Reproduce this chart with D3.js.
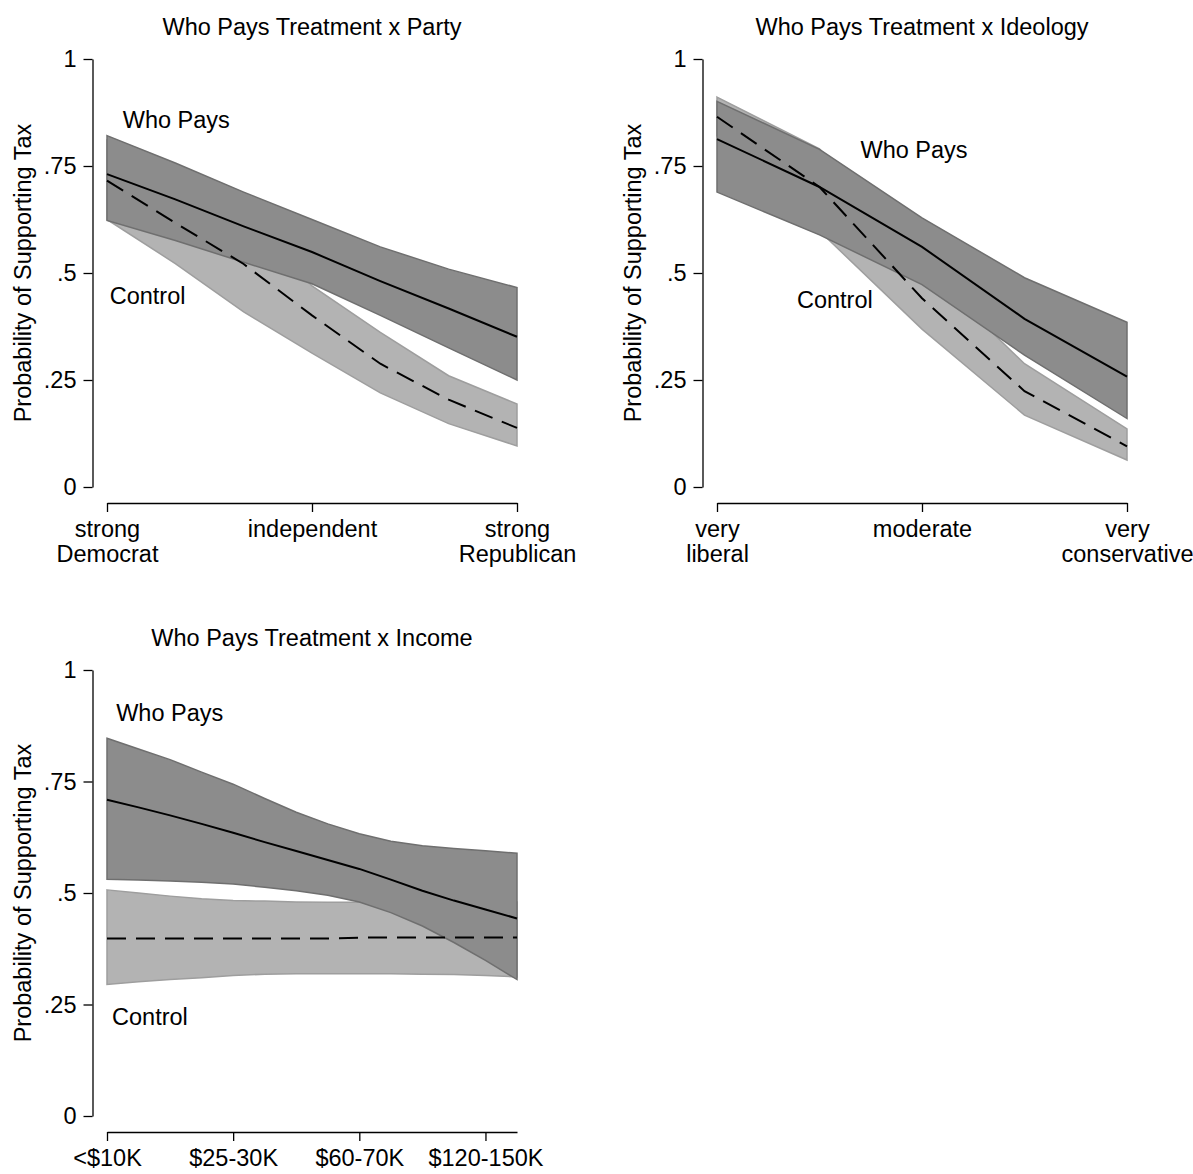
<!DOCTYPE html>
<html>
<head>
<meta charset="utf-8">
<script src="https://cdn.jsdelivr.net/npm/d3@7"></script>
<style>
  body { margin: 0; background: #fff; }
  svg { display: block; font-family: "Liberation Sans", Arial, Helvetica, sans-serif; }
  .axis path, .axis line { stroke: #000; stroke-width: 1.3; }
  .axis text { fill: #000; }
</style>
</head>
<body>
<svg id="chart" width="1193" height="1174"></svg>
<script>
// ---- data ----
const yTicks = [0, 0.25, 0.5, 0.75, 1];
const yTickLabels = ["0", ".25", ".5", ".75", "1"];

// Party (1 = strong Democrat ... 7 = strong Republican)
const partyX = [1, 2, 3, 4, 5, 6, 7];
const partyTicks = [1, 4, 7];
const partyTickLabels = [["strong", "Democrat"], ["independent"], ["strong", "Republican"]];
const partyWhoMid = [0.731, 0.672, 0.609, 0.549, 0.481, 0.417, 0.351];
const partyWhoLo  = [0.623, 0.576, 0.525, 0.475, 0.401, 0.325, 0.250];
const partyWhoHi  = [0.821, 0.757, 0.689, 0.625, 0.561, 0.509, 0.466];
const partyCtlMid = [0.716, 0.617, 0.521, 0.401, 0.288, 0.204, 0.138];
const partyCtlLo  = [0.625, 0.522, 0.409, 0.313, 0.220, 0.148, 0.096];
const partyCtlHi  = [0.810, 0.710, 0.630, 0.470, 0.361, 0.260, 0.194];

// Ideology (1 = very liberal ... 5 = very conservative)
const ideoX = [1, 2, 3, 4, 5];
const ideoTicks = [1, 3, 5];
const ideoTickLabels = [["very", "liberal"], ["moderate"], ["very", "conservative"]];
const ideoWhoMid = [0.813, 0.701, 0.561, 0.393, 0.258];
const ideoWhoLo  = [0.689, 0.589, 0.473, 0.308, 0.160];
const ideoWhoHi  = [0.901, 0.789, 0.629, 0.489, 0.385];
const ideoCtlMid = [0.865, 0.701, 0.441, 0.224, 0.095];
const ideoCtlLo  = [0.820, 0.598, 0.369, 0.168, 0.063];
const ideoCtlHi  = [0.911, 0.790, 0.520, 0.288, 0.136];

// Income (14 brackets)
const incX = [1, 2, 3, 4, 5, 6, 7, 8, 9, 10, 11, 12, 13, 14];
const incTicks = [1, 5, 9, 13];
const incTickLabels = [["<$10K"], ["$25-30K"], ["$60-70K"], ["$120-150K"]];
const incWhoMid = [0.709, 0.692, 0.674, 0.655, 0.635, 0.614, 0.594, 0.574, 0.554, 0.530, 0.505, 0.483, 0.463, 0.443];
const incWhoLo  = [0.531, 0.529, 0.527, 0.524, 0.520, 0.513, 0.505, 0.495, 0.480, 0.456, 0.426, 0.389, 0.349, 0.306];
const incWhoHi  = [0.847, 0.823, 0.799, 0.771, 0.744, 0.712, 0.681, 0.655, 0.633, 0.616, 0.606, 0.600, 0.595, 0.589];
const incCtlMid = [0.398, 0.398, 0.398, 0.398, 0.398, 0.398, 0.398, 0.398, 0.400, 0.400, 0.400, 0.400, 0.400, 0.400];
const incCtlLo  = [0.295, 0.301, 0.306, 0.310, 0.315, 0.318, 0.319, 0.319, 0.319, 0.319, 0.318, 0.317, 0.315, 0.312];
const incCtlHi  = [0.507, 0.500, 0.493, 0.487, 0.483, 0.482, 0.480, 0.479, 0.479, 0.479, 0.480, 0.480, 0.480, 0.480];

// group label anchors (data coords: x, y)
const partyLabels = [["Who Pays", 1.23, 0.857], ["Control", 1.04, 0.446]];
const ideoLabels  = [["Who Pays", 2.40, 0.787], ["Control", 1.78, 0.437]];
const incLabels   = [["Who Pays", 1.29, 0.904], ["Control", 1.16, 0.222]];

const Y_TITLE = "Probability of Supporting Tax";
const FS = 23.5;

const svg = d3.select("#chart");

function drawPanel(p) {
  const g = svg.append("g");
  const x = d3.scaleLinear([p.xs[0], p.xs[p.xs.length - 1]], [p.left + 14.5, p.left + 424.5]);
  const y = d3.scaleLinear([0, 1], [p.bottom, p.top]);

  const rows = p.xs.map((v, i) => ({
    x: v, wm: p.whoMid[i], wl: p.whoLo[i], wh: p.whoHi[i],
    cm: p.ctlMid[i], cl: p.ctlLo[i], ch: p.ctlHi[i]
  }));

  const band = (lo, hi) => d3.area().x(d => x(d.x)).y0(d => y(d[lo])).y1(d => y(d[hi]));
  const line = key => d3.line().x(d => x(d.x)).y(d => y(d[key]));

  // control band underneath, who-pays band on top (opaque)
  g.append("path").attr("d", band("cl", "ch")(rows))
    .attr("fill", "#b3b3b3").attr("stroke", "#9e9e9e").attr("stroke-width", 1.5);
  g.append("path").attr("d", band("wl", "wh")(rows))
    .attr("fill", "#8c8c8c").attr("stroke", "#6f6f6f").attr("stroke-width", 1.5);

  g.append("path").attr("d", line("cm")(rows))
    .attr("fill", "none").attr("stroke", "#000").attr("stroke-width", 2)
    .attr("stroke-dasharray", "19,10");
  g.append("path").attr("d", line("wm")(rows))
    .attr("fill", "none").attr("stroke", "#000").attr("stroke-width", 2);

  // y axis
  const ya = g.append("g").attr("class", "axis")
    .attr("transform", `translate(${p.left},0)`)
    .call(d3.axisLeft(y).tickValues(yTicks)
      .tickFormat((d, i) => yTickLabels[i]).tickSize(9).tickSizeOuter(0).tickPadding(7));
  ya.attr("font-size", FS).attr("font-family", null);

  // x axis, labels may wrap onto two lines
  const xa = g.append("g").attr("class", "axis")
    .attr("transform", `translate(0,${p.axisY})`)
    .call(d3.axisBottom(x).tickValues(p.ticks).tickFormat("").tickSize(9).tickSizeOuter(0));
  xa.attr("font-family", null);
  xa.selectAll(".tick").each(function(d, i) {
    const t = d3.select(this).append("text")
      .attr("fill", "#000").attr("font-size", FS).attr("text-anchor", "middle");
    p.tickLabels[i].forEach((s, k) => {
      t.append("tspan").attr("x", 0).attr("y", 34 + k * 25).text(s);
    });
  });

  // title
  g.append("text")
    .attr("x", (x.range()[0] + x.range()[1]) / 2).attr("y", p.top - 24)
    .attr("text-anchor", "middle").attr("font-size", FS).text(p.title);

  // y title
  g.append("text")
    .attr("transform", `translate(${p.left - 62},${(p.top + p.bottom) / 2}) rotate(-90)`)
    .attr("text-anchor", "middle").attr("font-size", FS).text(Y_TITLE);

  // group labels
  p.labels.forEach(([txt, lx, ly]) => {
    g.append("text").attr("x", x(lx)).attr("y", y(ly))
      .attr("dy", "0.35em").attr("font-size", FS).text(txt);
  });
}

drawPanel({
  title: "Who Pays Treatment x Party", left: 92.5, top: 59, bottom: 487, axisY: 503,
  xs: partyX, ticks: partyTicks, tickLabels: partyTickLabels,
  whoMid: partyWhoMid, whoLo: partyWhoLo, whoHi: partyWhoHi,
  ctlMid: partyCtlMid, ctlLo: partyCtlLo, ctlHi: partyCtlHi, labels: partyLabels
});
drawPanel({
  title: "Who Pays Treatment x Ideology", left: 702.5, top: 59, bottom: 487, axisY: 503,
  xs: ideoX, ticks: ideoTicks, tickLabels: ideoTickLabels,
  whoMid: ideoWhoMid, whoLo: ideoWhoLo, whoHi: ideoWhoHi,
  ctlMid: ideoCtlMid, ctlLo: ideoCtlLo, ctlHi: ideoCtlHi, labels: ideoLabels
});
drawPanel({
  title: "Who Pays Treatment x Income", left: 92.5, top: 670, bottom: 1116, axisY: 1132,
  xs: incX, ticks: incTicks, tickLabels: incTickLabels,
  whoMid: incWhoMid, whoLo: incWhoLo, whoHi: incWhoHi,
  ctlMid: incCtlMid, ctlLo: incCtlLo, ctlHi: incCtlHi, labels: incLabels
});
</script>
</body>
</html>
